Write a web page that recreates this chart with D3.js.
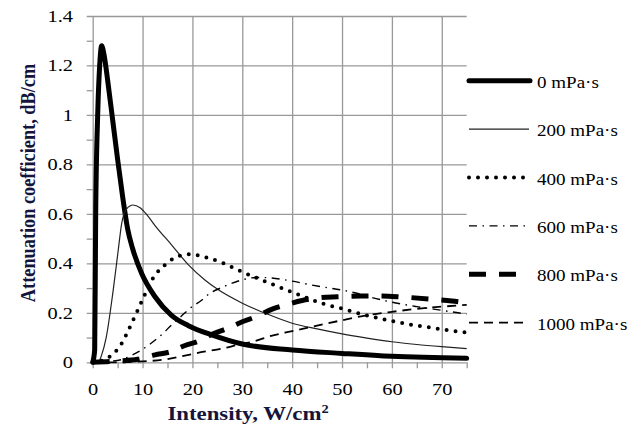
<!DOCTYPE html>
<html>
<head>
<meta charset="UTF-8">
<title>Attenuation coefficient vs intensity</title>
<script src="https://d3js.org/d3.v7.min.js"></script>
<style>
  body { margin: 0; background: #fff; }
  svg text { font-family: "Liberation Serif", "DejaVu Serif", serif; }
  .grid line { stroke: #999; stroke-width: 1.3px; }
  .grid text { fill: #000; font-size: 17px; }
  .minor line { stroke: #999; stroke-width: 1.3px; }
  .axis-title { font-weight: bold; font-size: 19px; fill: #14143c; }
  .legend text { font-size: 17px; fill: #000; }
</style>
</head>
<body>
<svg id="chart" width="640" height="430"></svg>
<script>
// tick values
const xMajor = [0, 10, 20, 30, 40, 50, 60, 70];
const xMinor = [5, 15, 25, 35, 45, 55, 65, 75];
const yMajor = [0, 0.2, 0.4, 0.6, 0.8, 1, 1.2, 1.4];
const yMinor = [0.1, 0.3, 0.5, 0.7, 0.9, 1.1, 1.3];

// series labels
const seriesNames = ["0 mPa·s", "200 mPa·s", "400 mPa·s", "600 mPa·s", "800 mPa·s", "1000 mPa·s"];

// curves: [intensity, attenuation]
const visc0 = [[0,0],[0.4,0.05],[0.6,0.6],[1.0,1.0],[1.4,1.2],[1.8,1.28],[2.3,1.24],[3,1.14],[4,0.98],
  [5,0.82],[6,0.67],[7,0.54],[8,0.46],[9.8,0.36],[12.5,0.265],[15.8,0.19],[19.2,0.148],[24,0.11],
  [30,0.074],[40,0.05],[50,0.036],[60,0.024],[75,0.016]];
const visc200 = [[0,0],[1.1,0],[1.8,0.03],[2.7,0.1],[4.1,0.29],[5.1,0.45],[5.8,0.56],[6.8,0.62],[8.1,0.636],
  [9.5,0.625],[11,0.593],[12.5,0.553],[15.8,0.475],[19.2,0.394],[22.5,0.333],[25.2,0.293],[30,0.239],
  [35,0.195],[40,0.158],[45,0.135],[50,0.115],[55,0.098],[60,0.083],[65,0.072],[70,0.063],[75,0.055]];
const visc400 = [[0,0],[1.5,0.005],[3.4,0.023],[5.75,0.074],[7.4,0.14],[9,0.209],[10.5,0.276],[12.1,0.34],
  [14.5,0.394],[17.5,0.431],[19.5,0.437],[22.9,0.423],[26.3,0.4],[29.6,0.369],[33,0.34],[36.3,0.313],
  [39.7,0.286],[43,0.26],[46.4,0.236],[49.8,0.218],[53.4,0.197],[56.8,0.181],[60.2,0.166],[64.2,0.151],
  [67.5,0.141],[70.9,0.131],[75,0.12]];
const visc600 = [[0,0],[3,0.003],[6,0.012],[8,0.03],[9.8,0.05],[12.1,0.083],[14.1,0.117],[15.8,0.151],
  [17.8,0.187],[19.5,0.218],[21.9,0.252],[23.5,0.279],[25.6,0.3],[28,0.32],[30.3,0.335],[33,0.343],
  [35,0.342],[40,0.328],[43,0.316],[46,0.305],[50,0.292],[53,0.279],[56,0.262],[60,0.243],[65,0.225],
  [70,0.21],[75,0.195]];
const visc800 = [[0,0],[5,0.005],[9,0.012],[12.5,0.03],[15.5,0.042],[18.5,0.068],[21.2,0.085],[23.6,0.11],
  [27,0.137],[30,0.164],[32.7,0.184],[36,0.215],[38.7,0.232],[42,0.25],[45,0.26],[49,0.265],[54,0.268],
  [58,0.268],[62,0.264],[68,0.255],[72,0.248],[75,0.24]];
const visc1000 = [[0,0],[5,0],[10,0.004],[14,0.01],[18,0.025],[22,0.042],[26,0.056],[30,0.075],[32,0.083],
  [36,0.108],[40,0.126],[45,0.148],[50,0.17],[55,0.19],[60,0.204],[65,0.216],[70,0.225],[75,0.232]];

const seriesData = [visc0, visc200, visc400, visc600, visc800, visc1000];

// line styles for each series
const styles = [
  { width: 5, dash: null, cap: "round" },
  { width: 1.2, dash: null, cap: "butt" },
  { width: 4, dash: "0 9", cap: "round" },
  { width: 1.4, dash: "8 5.5 1.5 5.5", cap: "butt" },
  { width: 5, dash: "17 13", cap: "butt" },
  { width: 1.8, dash: "9 6", cap: "butt" }
];

// the source image is a bit wider than tall, text looks stretched sideways
const stretch = 1.2;

const svg = d3.select("#chart");
const plotLeft = 92.7, plotRight = 466.7, plotTop = 16, plotBottom = 362.3;

const x = d3.scaleLinear().domain([0, 75]).range([plotLeft, plotRight]);
const y = d3.scaleLinear().domain([0, 1.4]).range([plotBottom, plotTop]);

// vertical grid + x labels (gridlines poke 6px below the axis)
svg.append("g")
  .attr("class", "grid")
  .attr("transform", "translate(0," + (plotBottom + 6) + ")")
  .call(d3.axisBottom(x).tickValues(xMajor).tickSizeInner(-(plotBottom - plotTop + 6)).tickSizeOuter(0).tickPadding(14.6))
  .call(g => g.select(".domain").remove())
  .call(g => g.selectAll(".tick text").attr("transform", "scale(" + stretch + ",1)"));

// minor x ticks
svg.append("g")
  .attr("class", "minor")
  .attr("transform", "translate(0," + plotBottom + ")")
  .call(d3.axisBottom(x).tickValues(xMinor).tickSize(6).tickFormat(""))
  .call(g => g.select(".domain").remove());

// horizontal grid + y labels
svg.append("g")
  .attr("class", "grid")
  .attr("transform", "translate(" + (plotLeft - 6) + ",0)")
  .call(d3.axisLeft(y).tickValues(yMajor).tickSizeInner(-(plotRight - plotLeft + 6)).tickSizeOuter(0).tickPadding(11.4)
    .tickFormat(d => String(+d.toFixed(1))))
  .call(g => g.select(".domain").remove())
  .call(g => g.selectAll(".tick text").attr("transform", "scale(" + stretch + ",1)"));

// minor y ticks
svg.append("g")
  .attr("class", "minor")
  .attr("transform", "translate(" + plotLeft + ",0)")
  .call(d3.axisLeft(y).tickValues(yMinor).tickSize(6).tickFormat(""))
  .call(g => g.select(".domain").remove());

svg.selectAll("g.grid, g.minor").attr("font-family", null).attr("font-size", null);

// curves
const line = d3.line()
  .x(d => x(d[0]))
  .y(d => y(d[1]))
  .curve(d3.curveMonotoneX);

svg.append("g").selectAll("path")
  .data(seriesData)
  .join("path")
  .attr("fill", "none")
  .attr("stroke", (d, i) => i === 1 ? "#222" : "#000")
  .attr("stroke-width", (d, i) => styles[i].width)
  .attr("stroke-dasharray", (d, i) => styles[i].dash)
  .attr("stroke-linecap", (d, i) => styles[i].cap)
  .attr("stroke-linejoin", "round")
  .attr("d", line);

// legend
const legendY = d3.scaleLinear().domain([0, 5]).range([80.7, 322.7]);
const legendEnd = [530, 529, 527, 528, 517, 523];
const legend = svg.append("g").attr("class", "legend");
const item = legend.selectAll("g")
  .data(seriesNames)
  .join("g")
  .attr("transform", (d, i) => "translate(0," + legendY(i) + ")");
item.append("line")
  .attr("x1", 469)
  .attr("x2", (d, i) => legendEnd[i])
  .attr("stroke", (d, i) => i === 1 ? "#222" : "#000")
  .attr("stroke-width", (d, i) => styles[i].width)
  .attr("stroke-dasharray", (d, i) => styles[i].dash)
  .attr("stroke-linecap", (d, i) => styles[i].cap);
item.append("text")
  .attr("transform", "translate(537,7) scale(1.12,1)")
  .text(d => d);

// axis titles
svg.append("text")
  .attr("class", "axis-title")
  .style("font-size", "18.3px")
  .attr("transform", "translate(35,183) scale(" + stretch + ",1) rotate(-90)")
  .attr("text-anchor", "middle")
  .text("Attenuation coefficient, dB/cm");

const xt = svg.append("text")
  .attr("class", "axis-title")
  .attr("transform", "translate(248,420) scale(" + stretch + ",1)")
  .attr("text-anchor", "middle");
xt.append("tspan").text("Intensity, W/cm");
xt.append("tspan").attr("font-size", "12px").attr("dy", -7).text("2");
</script>
</body>
</html>
